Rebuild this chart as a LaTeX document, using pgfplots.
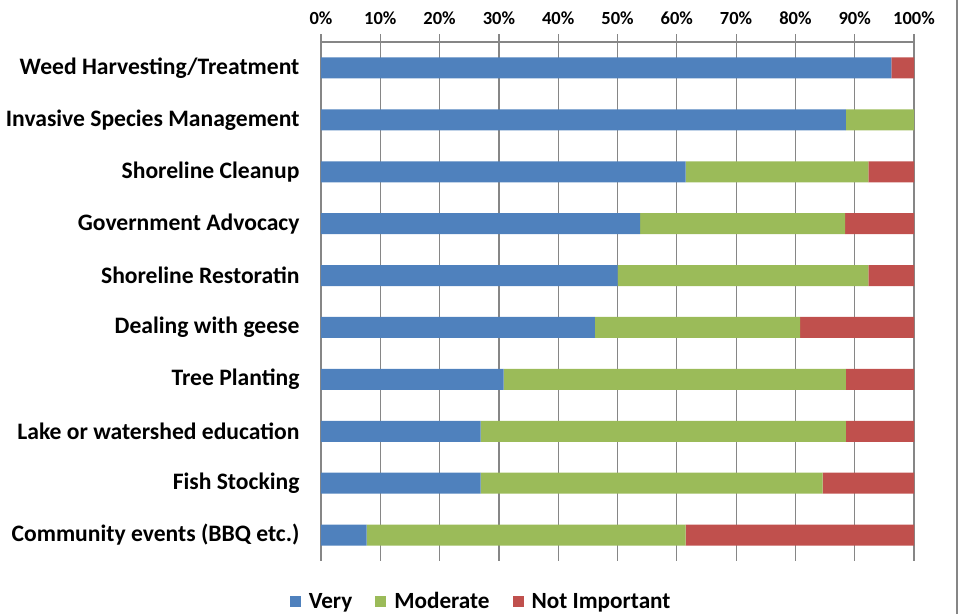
\documentclass[border=0pt]{standalone}
\usepackage{pgfplots}
\pgfplotsset{compat=1.18}
\usepackage{fontspec}
\setmainfont{Carlito}
\definecolor{cvery}{HTML}{4F81BD}
\definecolor{cmod}{HTML}{9BBB59}
\definecolor{cnot}{HTML}{C0504D}
\definecolor{cgrid}{HTML}{868686}
\begin{document}
\begin{tikzpicture}[x=1pt,y=1pt]
\useasboundingbox (0,0) rectangle (962,614);
\begin{axis}[
  at={(321pt,53pt)}, anchor=south west,
  scale only axis, width=593pt, height=519pt,
  xbar stacked, bar width=21pt,
  y dir=reverse,
  xmin=0, xmax=100, ymin=-0.5, ymax=9.5,
  axis x line*=top, axis y line*=left,
  axis line style={cgrid, line width=1.2pt, -},
  xtick={0,10,...,100},
  xticklabels={0\%,10\%,20\%,30\%,40\%,50\%,60\%,70\%,80\%,90\%,100\%},
  xticklabel style={font=\fontsize{18.5}{20}\selectfont\bfseries, yshift=6pt},
  xmajorgrids, major grid style={cgrid, line width=1.2pt},
  xtick style={cgrid, line width=1.2pt},
  xtick align=outside, major tick length=8pt,
  ytick={0,...,9},
  yticklabels={Weed Harvesting/Treatment, Invasive Species Management, Shoreline Cleanup, Government Advocacy, Shoreline Restoratin, Dealing with geese, Tree Planting, Lake or watershed education, Fish Stocking, Community events (BBQ etc.)},
  yticklabel style={font=\fontsize{23.6}{25}\selectfont\bfseries, xshift=-18pt},
  ytick style={draw=none},
  extra y ticks={-0.5,0.5,1.5,2.5,3.5,4.5,5.5,6.5,7.5,8.5,9.5},
  extra y tick labels={},
  extra y tick style={ytick align=outside, tick style={cgrid, line width=1.2pt}, major tick length=7pt, grid=none},
  legend style={at={(0.27,-0.0828)}, anchor=center, draw=none, legend columns=3,
    font=\fontsize{23.2}{25}\selectfont\bfseries,
    nodes={text height=0.68em, text depth=0.2em},
    /tikz/every odd column/.append style={column sep=6pt},
    /tikz/every even column/.append style={column sep=21pt}},
  legend image code/.code={\fill[#1] (0pt,-1pt) rectangle (11pt,10pt);},
]
\addplot[fill=cvery, draw=none] coordinates {(96.2,0) (88.5,1) (61.5,2) (53.8,3) (50.0,4) (46.2,5) (30.8,6) (26.9,7) (26.9,8) (7.7,9)};
\addplot[fill=cmod, draw=none] coordinates {(0,0) (11.5,1) (30.8,2) (34.6,3) (42.3,4) (34.6,5) (57.7,6) (61.6,7) (57.7,8) (53.8,9)};
\addplot[fill=cnot, draw=none] coordinates {(3.8,0) (0,1) (7.7,2) (11.6,3) (7.7,4) (19.2,5) (11.5,6) (11.5,7) (15.4,8) (38.5,9)};
\legend{Very, Moderate, Not Important}
\end{axis}
\draw[cgrid, line width=1.5pt] (957,0) -- (957,614);
\end{tikzpicture}
\end{document}
